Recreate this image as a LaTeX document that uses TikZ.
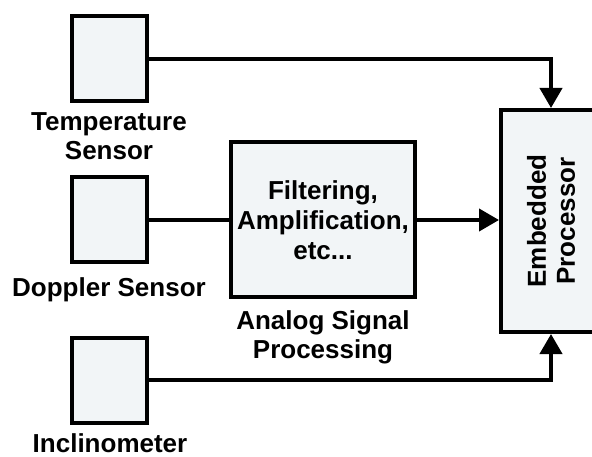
\documentclass[tikz,border=0pt]{standalone}
\usepackage{fontspec}
\setmainfont{Liberation Sans}
\usetikzlibrary{arrows.meta}
\definecolor{boxfill}{HTML}{F2F5F7}
\begin{document}
\begin{tikzpicture}[x=1pt,y=-1pt,
  blk/.style={draw=black, fill=boxfill, line width=4pt, inner sep=0pt, align=center,
    font=\fontsize{26}{30}\selectfont\bfseries},
  sensor/.style={blk, minimum width=75pt, minimum height=85pt},
  lbl/.style={align=center, inner sep=0pt, font=\fontsize{26}{29}\selectfont\bfseries},
  wire/.style={line width=4pt},
  arr/.style={wire, -{Triangle[length=20pt,width=22pt]}}]
\useasboundingbox (0,0) rectangle (592,457);
\node[sensor] (temp) at (109.5,59) {};
\node[sensor] (dop) at (109.5,220) {};
\node[sensor] (inc) at (109.5,380) {};
\node[blk, minimum width=184pt, minimum height=155pt] (asp) at (323,220) {Filtering,\\Amplification,\\etc...};
\node[blk, minimum width=100pt, minimum height=222pt] (ep) at (551,221) {};
\node[lbl, rotate=90] (eplbl) at (ep.center) {Embedded\\Processor};
\node[lbl] (templbl) at (109,136) {Temperature\\Sensor};
\node[lbl] (doplbl) at (109,290) {Doppler Sensor};
\node[lbl] (asplbl) at (323,337) {Analog Signal\\Processing};
\node[lbl] (inclbl) at (110,443) {Inclinometer};
\draw[arr] (temp.east) -| (ep.north);
\draw[wire] (dop.east) -- (asp.west);
\draw[arr] (asp.east) -- (ep.west |- asp.east);
\draw[arr] (inc.east) -| (ep.south);
\end{tikzpicture}
\end{document}
